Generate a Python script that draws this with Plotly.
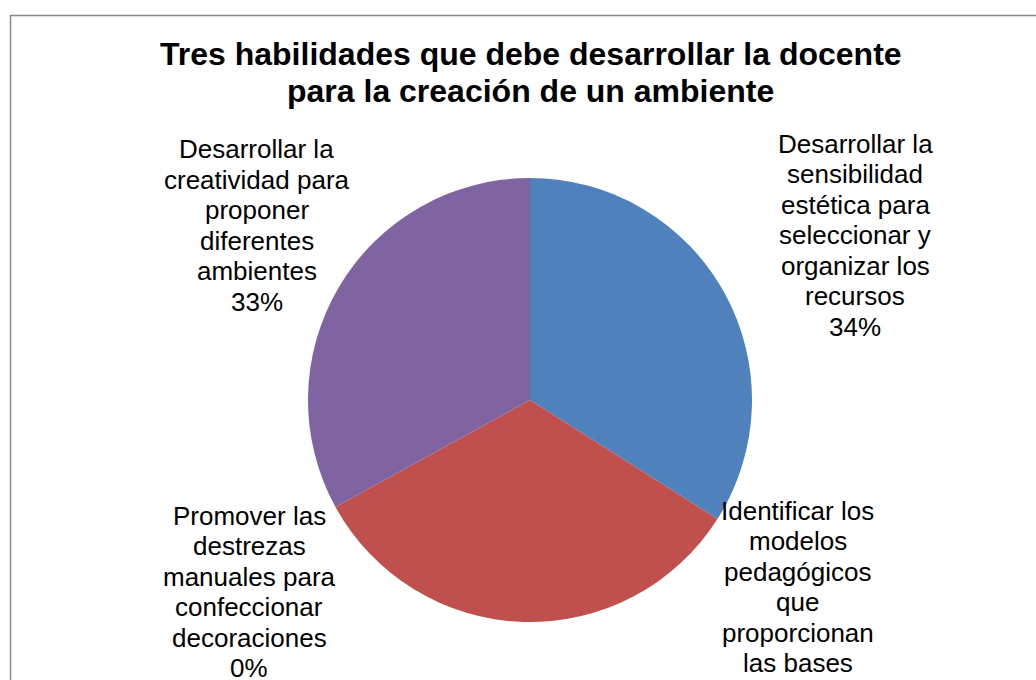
import plotly.graph_objects as go

# ---- data ----
categories = [
    "Desarrollar la sensibilidad estética para seleccionar y organizar los recursos",
    "Identificar los modelos pedagógicos que proporcionan las bases",
    "Promover las destrezas manuales para confeccionar decoraciones",
    "Desarrollar la creatividad para proponer diferentes ambientes",
]
label_lines = [
    ["Desarrollar la", "sensibilidad", "estética para", "seleccionar y", "organizar los", "recursos"],
    ["Identificar los", "modelos", "pedagógicos", "que", "proporcionan", "las bases"],
    ["Promover las", "destrezas", "manuales para", "confeccionar", "decoraciones"],
    ["Desarrollar la", "creatividad para", "proponer", "diferentes", "ambientes"],
]
values = [34, 33, 0, 33]
colors = ["#4F81BD", "#C0504D", "#9BBB59", "#8064A2"]
title_lines = ["Tres habilidades que debe desarrollar la docente",
               "para la creación de un ambiente"]

# ---- layout geometry (pixels) ----
W, H = 1036, 680
FONT = "Liberation Sans, Arial, sans-serif"
cx, cy, r = 530, 400, 222


def px(x):
    return x / W


def py(y):
    return 1 - y / H


fig = go.Figure()
fig.add_trace(go.Pie(
    labels=categories,
    values=values,
    sort=False,
    direction="clockwise",
    rotation=0,
    textinfo="none",
    hoverinfo="label+percent",
    marker=dict(colors=colors, line=dict(width=0)),
    domain=dict(x=[px(cx - r), px(cx + r)], y=[py(cy + r), py(cy - r)]),
    showlegend=False,
))

annotations = []
# title
title_size = 32
title_pos = [(531, 65), (530, 101.7)]
for line, (x, yb) in zip(title_lines, title_pos):
    annotations.append(dict(
        text=f"<b>{line}</b>", x=px(x), y=py(yb - 0.3465 * title_size),
        xref="paper", yref="paper", xanchor="center", yanchor="middle",
        showarrow=False, font=dict(family=FONT, size=title_size, color="#000000"),
    ))

# data labels
total = sum(values)
label_size = 26
step = 30.5
label_pos = [(855, 152.7), (797.5, 520), (249, 525), (256.7, 158.3)]
for lines, v, (x, y0) in zip(label_lines, values, label_pos):
    pct = round(v / total * 100)
    all_lines = lines + [f"{pct}%"]
    for i, line in enumerate(all_lines):
        yb = y0 + i * step
        annotations.append(dict(
            text=line, x=px(x), y=py(yb - 0.3465 * label_size),
            xref="paper", yref="paper", xanchor="center", yanchor="middle",
            showarrow=False, font=dict(family=FONT, size=label_size, color="#000000"),
        ))

fig.update_layout(
    width=W, height=H,
    margin=dict(l=0, r=0, t=0, b=0),
    paper_bgcolor="#FFFFFF",
    plot_bgcolor="#FFFFFF",
    annotations=annotations,
    shapes=[dict(
        type="rect", xref="paper", yref="paper",
        x0=px(10.5), x1=px(W + 20), y0=py(H + 20), y1=py(15.5),
        line=dict(color="#8A8A8A", width=1.5), fillcolor="rgba(0,0,0,0)", layer="below",
    )],
)

fig.write_html("out.html")
